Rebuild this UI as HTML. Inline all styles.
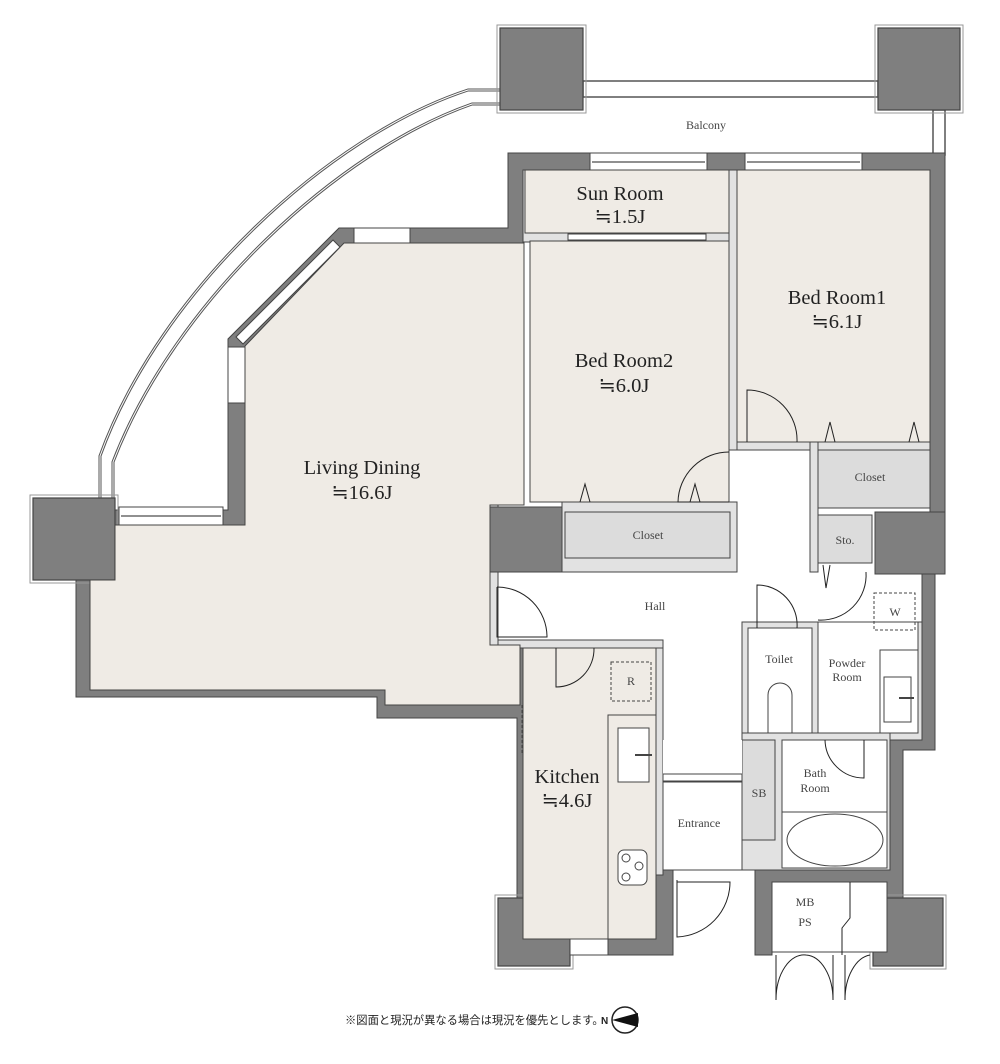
<!DOCTYPE html>
<html><head><meta charset="utf-8"><style>
html,body{margin:0;padding:0;background:#fff;}
svg{display:block;}
text{font-family:"Liberation Serif","Noto Serif CJK SC",serif;fill:#222;}
.s{font-size:12px;fill:#444;}
.b{font-size:20.5px;}
</style></head><body>
<svg width="1000" height="1064" viewBox="0 0 1000 1064" xmlns="http://www.w3.org/2000/svg">
<g stroke="#555" fill="none">
<path d="M500,90 L468,90 C330,135 160,290 100,456 L100,498" stroke-width="3"/>
<path d="M500,90 L468,90 C330,135 160,290 100,456 L100,498" stroke="#fff" stroke-width="1"/>
<path d="M500,104 L472,104 C340,150 175,300 113,462 L113,498" stroke-width="3"/>
<path d="M500,104 L472,104 C340,150 175,300 113,462 L113,498" stroke="#fff" stroke-width="1"/>
<rect x="583" y="81" width="295" height="16" fill="#fff" stroke-width="1.5"/>
<rect x="933" y="110" width="12" height="45" fill="#fff" stroke-width="1.5"/>
</g>
<g fill="#7f7f7f" stroke="#444" stroke-width="1">
<polygon points="508,153 945,153 945,574 935,574 935,750 903,750 903,898 873,898 873,882 772,882 772,955 755,955 755,870 673,870 673,955 608,955 608,898 517,898 517,718 377,718 377,697 76,697 76,575 115,575 115,510 228,510 228,339 339,228 508,228"/>
</g>
<g fill="#7f7f7f" stroke="#444" stroke-width="1.2">
<rect x="500" y="28" width="83" height="82"/>
<rect x="878" y="28" width="82" height="82"/>
<rect x="33" y="498" width="82" height="82"/>
<rect x="498" y="898" width="72" height="68"/>
<rect x="873" y="898" width="70" height="68"/>
</g>
<g fill="none" stroke="#999">
<rect x="497" y="25" width="89" height="88"/>
<rect x="875" y="25" width="88" height="88"/>
<rect x="30" y="495" width="88" height="88"/>
<rect x="495" y="895" width="78" height="74"/>
<rect x="870" y="895" width="76" height="74"/>
</g>
<polygon points="523,170 930,170 930,512 922,512 922,740 890,740 890,870 663,870 663,640 490,640 490,505 523,505" fill="#fff" stroke="#444"/>
<g fill="#e2e2e2" stroke="#444">
<rect x="523" y="170" width="215" height="72"/>
<rect x="729" y="170" width="8" height="280"/>
<rect x="737" y="442" width="193" height="8"/>
<rect x="810" y="442" width="8" height="130"/>
<rect x="562" y="502" width="175" height="70"/>
<rect x="742" y="622" width="180" height="118"/>
<rect x="742" y="733" width="148" height="137"/>
<rect x="656" y="640" width="7" height="235"/>
<rect x="490" y="640" width="173" height="8"/>
</g>
<polygon points="344,243 524,243 524,505 490,505 490,645 520,645 520,705 385,705 385,690 90,690 90,580 115,580 115,525 245,525 245,346" fill="#efebe5" stroke="#444"/>
<rect x="490" y="505" width="8" height="140" fill="#e2e2e2" stroke="#444"/>
<g fill="#fff" stroke="#444">
<rect x="354" y="228" width="56" height="15"/>
<rect x="228" y="347" width="17" height="56"/>
<rect x="119" y="507" width="104" height="18"/>
<polygon points="236,337 333,240 340,247 243,344"/>
<rect x="590" y="153" width="117" height="17"/>
<rect x="745" y="153" width="117" height="17"/>
<rect x="570" y="939" width="38" height="16"/>
<rect x="568" y="234" width="138" height="6"/>
</g>
<g stroke="#222"><line x1="592" y1="162" x2="705" y2="162"/><line x1="747" y1="162" x2="860" y2="162"/><line x1="121" y1="516" x2="221" y2="516"/></g>
<g stroke="#444" stroke-width="1">
<rect x="525" y="170" width="204" height="63" fill="#efebe5"/>
<rect x="737" y="170" width="193" height="272" fill="#efebe5"/>
<rect x="530" y="241" width="199" height="261" fill="#efebe5"/>
<rect x="490" y="507" width="72" height="65" fill="#7f7f7f"/>
<rect x="875" y="512" width="70" height="62" fill="#7f7f7f"/>
<rect x="565" y="512" width="165" height="46" fill="#dcdcdc"/>
<rect x="818" y="450" width="112" height="58" fill="#dcdcdc"/>
<rect x="818" y="515" width="54" height="48" fill="#dcdcdc"/>
<rect x="663" y="782" width="79" height="88" fill="#fff"/>
<rect x="523" y="648" width="133" height="291" fill="#efebe5"/>
<rect x="608" y="715" width="48" height="224" fill="#efebe5"/>
<rect x="748" y="628" width="64" height="105" fill="#fff"/>
<rect x="818" y="622" width="100" height="111" fill="#fff"/>
<rect x="880" y="650" width="38" height="83" fill="#fff"/>
<rect x="782" y="740" width="105" height="128" fill="#fff"/>
<line x1="782" y1="812" x2="887" y2="812"/>
<rect x="742" y="740" width="33" height="100" fill="#dcdcdc"/>
<rect x="772" y="882" width="115" height="70" fill="#fff"/>
<rect x="663" y="740" width="79" height="34" fill="#fff" stroke="none"/>
<line x1="663" y1="774" x2="742" y2="774"/><line x1="663" y1="781" x2="742" y2="781"/>
<rect x="618" y="728" width="31" height="54" fill="#fff"/>
<line x1="635" y1="755" x2="652" y2="755" stroke-width="2"/>
<rect x="618" y="850" width="29" height="35" rx="6" fill="#fff"/>
<circle cx="626" cy="858" r="4" fill="none"/><circle cx="639" cy="866" r="4" fill="none"/><circle cx="626" cy="877" r="4" fill="none"/>
<rect x="884" y="677" width="27" height="45" fill="#fff"/>
<line x1="899" y1="698" x2="914" y2="698" stroke-width="2"/>
<ellipse cx="835" cy="840" rx="48" ry="26" fill="#fff"/>
<path d="M768,733 L768,695 A12,12 0 0 1 792,695 L792,733 Z" fill="#fff"/>
</g>
<g fill="none" stroke="#444" stroke-dasharray="3,2">
<rect x="611" y="662" width="40" height="39"/>
<rect x="874" y="593" width="41" height="37"/>
<line x1="522" y1="705" x2="522" y2="755"/>
</g>
<g fill="none" stroke="#222" stroke-width="1">
<path d="M497,587 L497,637 L547,637 A50,50 0 0 0 497,587"/>
<path d="M556,648 L556,687 A38,38 0 0 0 594,648"/>
<path d="M757,628 L757,585 A40,40 0 0 1 797,628"/>
<path d="M747,442 L747,390 A50,50 0 0 1 797,442"/>
<path d="M729,452 A51,51 0 0 0 678,502 L729,502"/>
<path d="M864,740 L864,778 A39,39 0 0 1 825,740"/>
<path d="M818,620 A45,45 0 0 0 866,572"/>
<path d="M677,880 L677,937 A55,55 0 0 0 730,882 L677,882"/>
<path d="M776,955 L776,1000 A28,45 0 0 1 806,955 A28,45 0 0 1 833,1000 L833,955"/>
<path d="M845,955 L845,1000 A28,45 0 0 1 870,955"/>
<path d="M580,502 L585,484 L590,502 M690,502 L695,484 L700,502 M825,442 L830,422 L835,442 M909,442 L914,422 L919,442 M823,565 L826,588 L830,565"/>
<path d="M850,882 L850,918 L842,928 L842,955"/>
</g>
<g text-anchor="middle">
<text x="706" y="129" class="s">Balcony</text>
<text x="620" y="200" class="b">Sun Room</text><text x="620" y="223" class="b">≒1.5J</text>
<text x="837" y="304" class="b">Bed Room1</text><text x="837" y="328" class="b">≒6.1J</text>
<text x="624" y="367" class="b">Bed Room2</text><text x="624" y="392" class="b">≒6.0J</text>
<text x="362" y="474" class="b">Living Dining</text><text x="362" y="499" class="b">≒16.6J</text>
<text x="567" y="783" class="b">Kitchen</text><text x="567" y="807" class="b">≒4.6J</text>
<text x="870" y="481" class="s">Closet</text>
<text x="648" y="539" class="s">Closet</text>
<text x="845" y="544" class="s">Sto.</text>
<text x="655" y="610" class="s">Hall</text>
<text x="779" y="663" class="s">Toilet</text>
<text x="847" y="667" class="s">Powder</text><text x="847" y="681" class="s">Room</text>
<text x="895" y="616" class="s">W</text>
<text x="631" y="685" class="s">R</text>
<text x="815" y="777" class="s">Bath</text><text x="815" y="792" class="s">Room</text>
<text x="759" y="797" class="s">SB</text>
<text x="699" y="827" class="s">Entrance</text>
<text x="805" y="906" class="s">MB</text><text x="805" y="926" class="s">PS</text>
</g>
<text x="345" y="1024" style="font-size:11.3px;font-family:'Noto Sans CJK JP',sans-serif;fill:#222">※図面と現況が異なる場合は現況を優先とします。</text>
<text x="601" y="1024" style="font-size:10px;font-family:'Liberation Sans',sans-serif;font-weight:bold;fill:#222">N</text>
<circle cx="625" cy="1020" r="13" fill="#fff" stroke="#222" stroke-width="1.5"/>
<polygon points="612,1020 638,1013 638,1027" fill="#111"/>
</svg>
</body></html>
